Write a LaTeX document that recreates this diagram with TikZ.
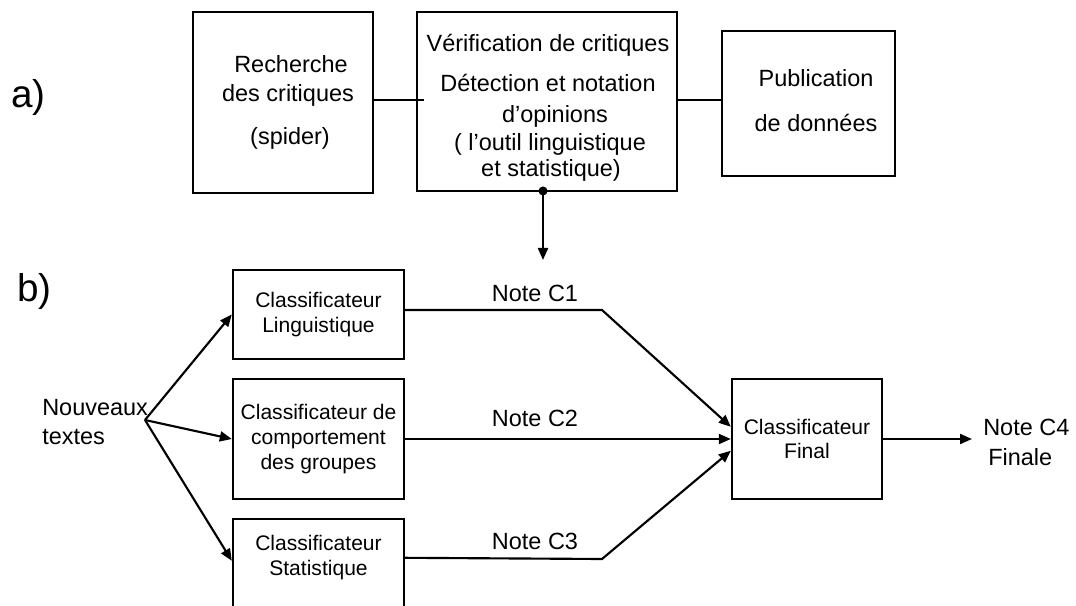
\documentclass[tikz,border=0pt]{standalone}
\usepackage{fontspec}
\setmainfont{Liberation Sans}
\usetikzlibrary{arrows.meta,calc}
\begin{document}
\begin{tikzpicture}[x=0.75pt,y=-0.75pt,
  box/.style={draw, line width=1.8pt, inner sep=0pt, minimum width=128.25pt},
  ttxt/.style={inner sep=0pt, font=\fontsize{17.6}{21}\selectfont, text height=0.72em, text depth=0pt},
  btxt/.style={inner sep=0pt, align=center, font=\fontsize{15.8}{18.7}\selectfont},
  lbl/.style={inner sep=0pt, anchor=west, font=\fontsize{29}{32}\selectfont, text height=0.73em, text depth=0.21em},
  conn/.style={line width=1.6pt},
  arr/.style={line width=1.6pt, -{Triangle[length=9pt,width=7.5pt]}},
]
\useasboundingbox (0,0) rectangle (1076,606);
\clip (0,0) rectangle (1076,606);

% ---- a) ----
\node[lbl] (la) at (11,104) {a)};
\node[box, minimum width=135pt, minimum height=135.75pt] (b1) at (283,102.5) {};
\node[box, minimum width=195pt, minimum height=134.25pt] (b2) at (547,101.5) {};
\node[box, minimum width=129.75pt, minimum height=108.75pt] (b3) at (808.5,103.5) {};

\node[ttxt] (t11) at (291,68) {Recherche};
\node[ttxt] (t12) at (288,97) {des critiques};
\node[ttxt] (t13) at (290,140) {(spider)};

\node[ttxt] (t21) at (548,47) {Vérification de critiques};
\node[ttxt] (t22) at (548,87) {Détection et notation};
\node[ttxt] (t23) at (555,118) {d’opinions};
\node[ttxt] (t24) at (550,146) {( l’outil linguistique};
\node[ttxt] (t25) at (551,172) {et statistique)};

\node[ttxt] (t31) at (816,82) {Publication};
\node[ttxt] (t32) at (816,127) {de données};

\draw[conn] ([yshift=1.9pt]b1.east) -- ([yshift=1.9pt,xshift=6pt]b1.east -| b2.west);
\draw[conn] ([yshift=1.1pt]b2.east) -- ([yshift=1.1pt]b2.east -| b3.west);

\coordinate (dot) at (543,191);
\coordinate (dtip) at (543,260);
\fill (dot) circle[radius=3.4pt];
\draw[arr] (dot) -- (dtip);

% ---- b) ----
\node[lbl] (lb) at (17,298) {b)};

\node[box, minimum height=66.75pt, btxt] (L) at (318.5,314.5) {Classificateur\\Linguistique};
\node[box, minimum height=90pt, btxt] (C) at (318.5,439) {Classificateur de\\comportement\\des groupes};
\node[box, minimum height=98.25pt] (S) at (318.5,584.5) {};
\node[btxt] (St) at (318.5,557.5) {Classificateur\\Statistique};
\node[box, minimum width=112.5pt, minimum height=90pt, btxt] (F) at (807,439) {Classificateur\\Final};

\node[inner sep=0pt, anchor=west, align=left, font=\fontsize{17.6}{21.75}\selectfont] (nt) at (42,422.5) {Nouveaux\\textes};
\coordinate (src) at (145,420);
\draw[arr] (src) -- (L.west);
\draw[arr] (src) -- (C.west);
\draw[arr] (src) -- ([yshift=-32.25pt]S.north west);

\coordinate (c1b) at (602,310);
\coordinate (c3b) at (602,559);
\draw[arr] ([yshift=3.4pt]L.east) -- (c1b) -- ([yshift=-36.75pt]F.north west);
\draw[arr] (C.east) -- (F.west);
\draw[arr] ([yshift=-30pt]S.north east) -- (c3b) -- ([yshift=-54.75pt]F.north west);

\node[ttxt] (n1) at (535,297) {Note C1};
\node[ttxt] (n2) at (535,422) {Note C2};
\node[ttxt] (n3) at (535,545) {Note C3};

\coordinate (out) at (972,439);
\draw[arr] (F.east) -- (out);
\node[ttxt, anchor=west] (n4) at (983,431) {Note C4};
\node[ttxt, anchor=west] (n4b) at (988,461) {Finale};
\end{tikzpicture}
\end{document}
